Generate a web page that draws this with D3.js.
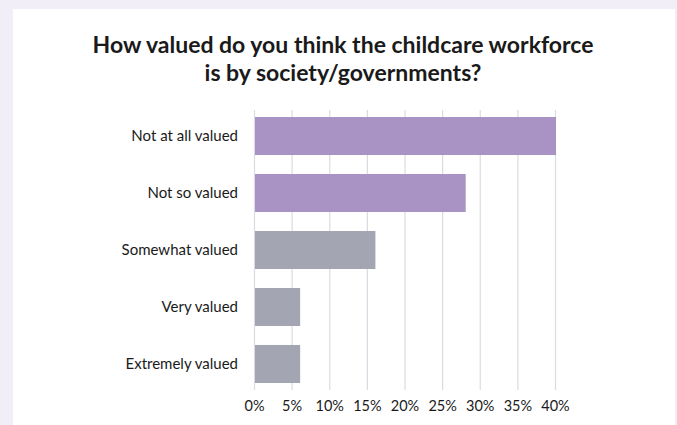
<!DOCTYPE html>
<html>
<head>
<meta charset="utf-8">
<script src="https://cdn.jsdelivr.net/npm/d3@7"></script>
<style>
    body { margin: 0; background: #f1eef8; }
    svg { display: block; }
    text { font-family: Lato, "Open Sans", sans-serif; fill: #1a1a1a; }
</style>
</head>
<body>
<div id="main"></div>
<script>
const categories = ["Not at all valued", "Not so valued", "Somewhat valued", "Very valued", "Extremely valued"];
const values = [40, 28, 16, 6, 6];
const barColors = ["#a992c4", "#a992c4", "#a3a6b2", "#a3a6b2", "#a3a6b2"];
const tickValues = [0, 5, 10, 15, 20, 25, 30, 35, 40];
const titleLines = ["How valued do you think the childcare workforce", "is by society/governments?"];

const W = 677, H = 425;
const margin = {top: 110, right: 121, bottom: 35, left: 254};
const width = W - margin.left - margin.right;
const height = H - margin.top - margin.bottom;

const svg = d3.select('#main').append('svg')
    .attr('width', W)
    .attr('height', H);

// white panel
svg.append('rect')
    .attr('x', 13).attr('y', 9)
    .attr('width', 662).attr('height', H)
    .attr('fill', '#ffffff');

svg.selectAll('.title')
    .data(titleLines)
    .enter()
    .append('text')
    .attr('class', 'title')
    .attr('x', 343)
    .attr('y', (d, i) => 53 + i * 28)
    .attr('text-anchor', 'middle')
    .style('font-size', '23px')
    .style('font-weight', 'bold')
    .text(d => d);

const g = svg.append('g')
    .attr('transform', 'translate(' + margin.left + ',' + margin.top + ')');

const xScale = d3.scaleLinear()
    .domain([0, 40])
    .range([0, width - 1]);

const yScale = d3.scaleBand()
    .domain(categories)
    .range([0, height])
    .paddingInner(0.333)
    .paddingOuter(0.123);

// grid lines
g.selectAll('.grid')
    .data(tickValues)
    .enter()
    .append('line')
    .attr('class', 'grid')
    .attr('x1', d => xScale(d) + 0.5)
    .attr('x2', d => xScale(d) + 0.5)
    .attr('y1', 0)
    .attr('y2', height)
    .style('stroke', '#dcdae3')
    .style('stroke-width', 1.2);

g.selectAll('.bar')
    .data(values)
    .enter()
    .append('rect')
    .attr('class', 'bar')
    .attr('x', xScale(0) + 1)
    .attr('y', (d, i) => yScale(categories[i]))
    .attr('width', d => xScale(d) - xScale(0))
    .attr('height', yScale.bandwidth())
    .style('fill', (d, i) => barColors[i]);

const yAxis = d3.axisLeft(yScale).tickSize(0).tickPadding(16);
const yG = g.append('g').call(yAxis);
yG.select('.domain').remove();
yG.selectAll('text').style('font-size', '15px').attr('font-family', null);

const xAxis = d3.axisBottom(xScale)
    .tickValues(tickValues)
    .tickSize(0)
    .tickPadding(11)
    .tickFormat(d => d + '%');
const xG = g.append('g')
    .attr('transform', 'translate(0,' + height + ')')
    .call(xAxis);
xG.select('.domain').remove();
xG.selectAll('text').style('font-size', '14.5px').attr('font-family', null);
</script>
</body>
</html>
